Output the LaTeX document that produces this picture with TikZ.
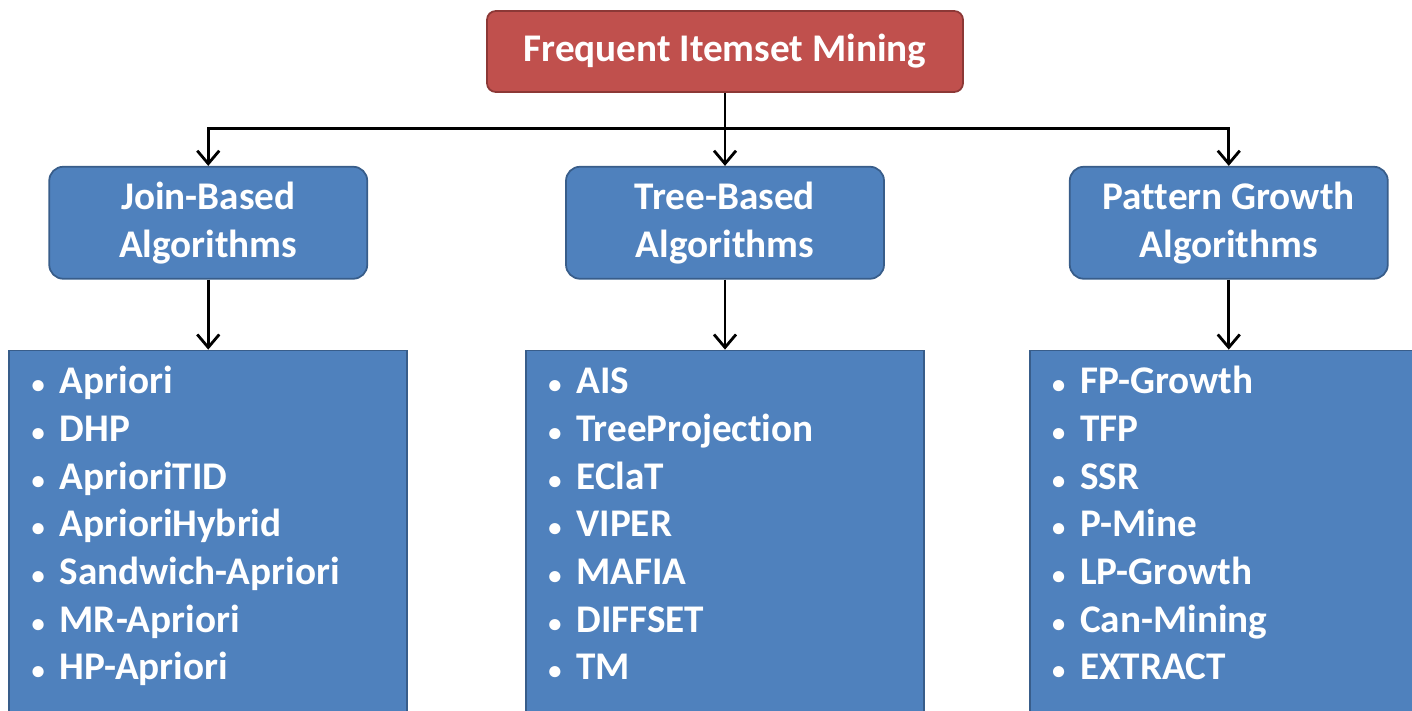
\documentclass[tikz,border=0pt]{standalone}
\usepackage{fontspec}
\setmainfont[Ligatures=NoCommon]{Carlito}
\usetikzlibrary{arrows.meta, positioning, calc}

\definecolor{rootred}{HTML}{C0504D}
\definecolor{rootredline}{HTML}{8C3836}
\definecolor{famblue}{HTML}{4F81BD}
\definecolor{famblueline}{HTML}{385D8A}

\newcommand{\itemdot}{\makebox[0.56cm][l]{\fontsize{15}{15}\selectfont\textbullet}}

\begin{document}
\begin{tikzpicture}[
  font=\fontsize{22.3}{27.3}\selectfont\bfseries,
  >={Straight Barb[length=2.6mm,width=4.4mm]},
  root/.style   ={draw=rootredline, fill=rootred, text=white, rounded corners=5pt, line width=1pt, minimum width=9.52cm, minimum height=1.62cm},
  family/.style ={draw=famblueline, fill=famblue, text=white, rounded corners=8pt, line width=1pt, align=center, minimum width=6.36cm, minimum height=2.24cm},
  listbox/.style={draw=famblueline, fill=famblue, line width=1pt, minimum width=7.96cm, minimum height=7.6cm},
  algo/.style   ={text=white, anchor=base west, inner sep=0pt},
  link/.style   ={->, line width=1.6pt},
]
\useasboundingbox (0,0) rectangle (28.24,14.2);
\clip (0,0) rectangle (28.24,14.2);

% ---------- root + three algorithm families ----------
\node[root] (fim) at (14.50,13.17) {Frequent Itemset Mining};
\node[family, below=1.46cm of fim]  (tree)    {Tree-Based\\Algorithms};
\node[family, left=3.94cm of tree]  (join)    {Join-Based\\Algorithms};
\node[family, right=3.68cm of tree] (pattern) {Pattern Growth\\Algorithms};

% ---------- list boxes under each family ----------
\node[listbox, below=1.4cm of join, anchor=north]    (joinlist)    {};
\node[listbox, below=1.4cm of tree, anchor=north]    (treelist)    {};
\node[listbox, below=1.4cm of pattern, anchor=north] (patternlist) {};

% root to families via a horizontal bus
\coordinate (bus) at ($(fim.south)+(0,-0.72)$);
\draw[link] (fim) -- (tree);
\draw[link] (bus) -| (join.north);
\draw[link] (bus) -| (pattern.north);

% families to their lists
\foreach \f in {join,tree,pattern}
  \draw[link] (\f) -- (\f list);

% ---------- bullet items ----------
\foreach \name [count=\i] in {Apriori, DHP, AprioriTID, AprioriHybrid, Sandwich-Apriori, MR-Apriori, HP-Apriori}
  \node[algo] (join-\i) at ($(joinlist.north west)+(0.46,{-0.88-0.954*(\i-1)})$) {\itemdot\name};
\foreach \name [count=\i] in {AIS, TreeProjection, EClaT, VIPER, MAFIA, DIFFSET, TM}
  \node[algo] (tree-\i) at ($(treelist.north west)+(0.46,{-0.88-0.954*(\i-1)})$) {\itemdot\name};
\foreach \name [count=\i] in {FP-Growth, TFP, SSR, P-Mine, LP-Growth, Can-Mining, EXTRACT}
  \node[algo] (pattern-\i) at ($(patternlist.north west)+(0.46,{-0.88-0.954*(\i-1)})$) {\itemdot\name};

\end{tikzpicture}
\end{document}
